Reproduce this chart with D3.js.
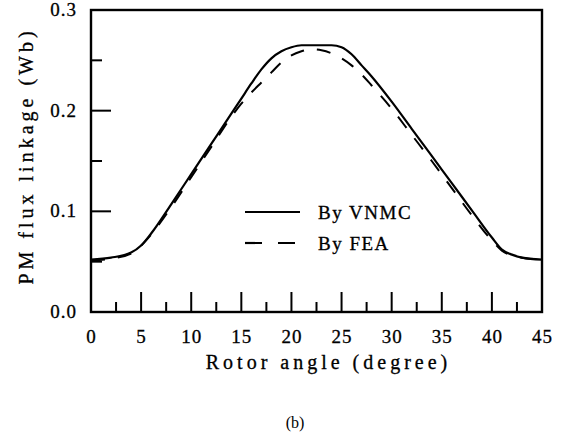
<!DOCTYPE html>
<html>
<head>
<meta charset="utf-8">
<script src="https://cdn.jsdelivr.net/npm/d3@7"></script>
<style>
  body { margin: 0; background: #fff; }
  svg text { font-family: "Liberation Serif", "Times New Roman", serif; fill: #000; }
</style>
</head>
<body>
<svg id="chart" width="565" height="436"></svg>
<script>
// ---- Data ----
const angles = [0, 2, 4, 5, 6, 8, 10, 12, 14, 15, 16, 17, 18, 19, 20, 21, 22, 23, 24, 25,
                26, 27, 28, 30, 32, 34, 36, 38, 40, 41, 42, 43, 45];
const vnmc = [0.052, 0.054, 0.059, 0.066, 0.078, 0.107, 0.137, 0.167, 0.197, 0.212, 0.227,
              0.241, 0.252, 0.259, 0.263, 0.265, 0.265, 0.265, 0.265, 0.263,
              0.256, 0.245, 0.234, 0.209, 0.182, 0.155, 0.128, 0.101, 0.074, 0.062, 0.057, 0.054, 0.052];
const fea  = [0.051, 0.053, 0.058, 0.066, 0.077, 0.104, 0.134, 0.164, 0.194, 0.207, 0.218,
              0.228, 0.238, 0.248, 0.255, 0.259, 0.261, 0.260, 0.257, 0.252,
              0.245, 0.236, 0.225, 0.202, 0.176, 0.150, 0.123, 0.096, 0.071, 0.061, 0.056, 0.054, 0.052];
const xTicks = [0, 5, 10, 15, 20, 25, 30, 35, 40, 45];
const yTicks = [0.0, 0.1, 0.2, 0.3];
const legendItems = [
  { label: "By VNMC", dash: null },
  { label: "By FEA", dash: "17,16" }
];

const svg = d3.select("#chart");
const margin = { top: 10, right: 23, bottom: 124, left: 91 };
const width = 565 - margin.left - margin.right;
const height = 436 - margin.top - margin.bottom;
const g = svg.append("g").attr("transform", `translate(${margin.left},${margin.top})`);

// ---- Scales ----
const x = d3.scaleLinear().domain([0, 45]).range([0, width]);
const y = d3.scaleLinear().domain([0, 0.3]).range([height, 0]);

// ---- Ticks (inward) ----
const xMinor = d3.range(2.5, 45, 5);
const yMinor = [0.05, 0.15, 0.25];

g.selectAll("line.xmaj").data(xTicks.slice(1, -1)).join("line")
  .attr("x1", d => x(d)).attr("x2", d => x(d))
  .attr("y1", height).attr("y2", height - 20)
  .attr("stroke", "#000").attr("stroke-width", 2);
g.selectAll("line.xmin").data(xMinor).join("line")
  .attr("x1", d => x(d)).attr("x2", d => x(d))
  .attr("y1", height).attr("y2", height - 10)
  .attr("stroke", "#000").attr("stroke-width", 2);
g.selectAll("line.ymaj").data(yTicks.slice(1, -1)).join("line")
  .attr("x1", 0).attr("x2", 20)
  .attr("y1", d => y(d)).attr("y2", d => y(d))
  .attr("stroke", "#000").attr("stroke-width", 2);
g.selectAll("line.ymin").data(yMinor).join("line")
  .attr("x1", 0).attr("x2", 11)
  .attr("y1", d => y(d)).attr("y2", d => y(d))
  .attr("stroke", "#000").attr("stroke-width", 2);

// ---- Frame ----
g.append("rect")
  .attr("x", 0).attr("y", 0).attr("width", width).attr("height", height)
  .attr("fill", "none").attr("stroke", "#000").attr("stroke-width", 2.4);

// ---- Tick labels ----
g.selectAll("text.xl").data(xTicks).join("text")
  .attr("x", d => x(d) + 0.5).attr("y", height + 31)
  .attr("text-anchor", "middle")
  .attr("font-size", 19).attr("letter-spacing", 1)
  .attr("stroke", "#000").attr("stroke-width", 0.3)
  .text(d => d);
g.selectAll("text.yl").data(yTicks).join("text")
  .attr("x", -14).attr("y", d => y(d) + 6)
  .attr("text-anchor", "end")
  .attr("font-size", 19).attr("letter-spacing", 1)
  .attr("stroke", "#000").attr("stroke-width", 0.3)
  .text(d => d.toFixed(1));

// ---- Axis titles ----
g.append("text")
  .attr("x", width / 2 + 12).attr("y", height + 57)
  .attr("text-anchor", "middle")
  .attr("font-size", 20).attr("letter-spacing", 4)
  .attr("stroke", "#000").attr("stroke-width", 0.3)
  .text("Rotor angle (degree)");
g.append("text")
  .attr("transform", `translate(${33 - margin.left},${height / 2 - 5}) rotate(-90)`)
  .attr("text-anchor", "middle")
  .attr("font-size", 20).attr("letter-spacing", 4)
  .attr("stroke", "#000").attr("stroke-width", 0.3)
  .text("PM flux linkage (Wb)");

// ---- Curves ----
const line = d3.line()
  .x(d => x(d[0]))
  .y(d => y(d[1]))
  .curve(d3.curveMonotoneX);

g.append("path")
  .datum(angles.map((a, i) => [a, vnmc[i]]))
  .attr("d", line)
  .attr("fill", "none").attr("stroke", "#000").attr("stroke-width", 2.2);
g.append("path")
  .datum(angles.map((a, i) => [a, fea[i]]))
  .attr("d", line)
  .attr("fill", "none").attr("stroke", "#000").attr("stroke-width", 2)
  .attr("stroke-dasharray", "14,13");

// ---- Legend ----
const lg = g.append("g").attr("transform", `translate(${245 - margin.left},${212 - margin.top})`);
legendItems.forEach((it, i) => {
  lg.append("line")
    .attr("x1", 0).attr("x2", 55)
    .attr("y1", i * 31).attr("y2", i * 31)
    .attr("stroke", "#000").attr("stroke-width", 2.2)
    .attr("stroke-dasharray", it.dash);
  lg.append("text")
    .attr("x", 73).attr("y", i * 31 + 7)
    .attr("font-size", 19).attr("letter-spacing", 1.5)
    .attr("stroke", "#000").attr("stroke-width", 0.3)
    .text(it.label);
});

// ---- Sub-caption ----
svg.append("text")
  .attr("x", 295).attr("y", 428)
  .attr("text-anchor", "middle")
  .attr("font-size", 16)
  .text("(b)");
</script>
</body>
</html>
